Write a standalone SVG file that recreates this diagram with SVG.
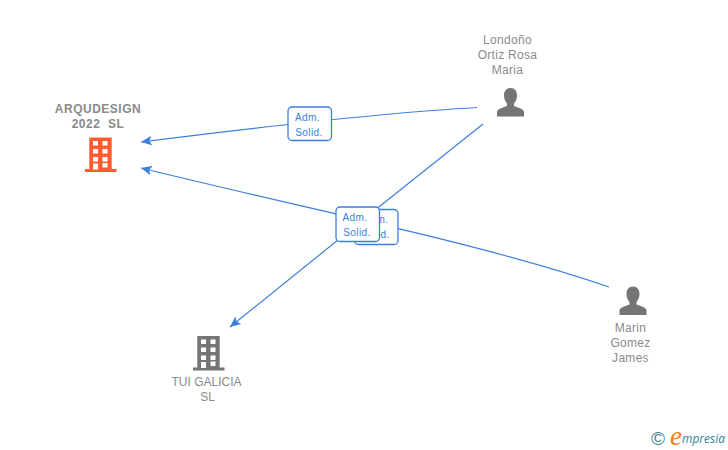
<svg xmlns="http://www.w3.org/2000/svg" width="728" height="450" viewBox="0 0 728 450">
<style>
.lab{font-family:"Liberation Sans",Arial,sans-serif;font-size:12px;fill:#8a8a8a;text-anchor:middle}
.sp{letter-spacing:.3px}
.b{font-weight:bold;letter-spacing:.5px}
.edge{fill:none;stroke:#3b7fdd;stroke-width:1.2}
.box{fill:#fff;stroke:#3b7fdd;stroke-width:1.3}
.bt{font-family:"Liberation Sans",Arial,sans-serif;font-size:10px;fill:#3b7fdd;text-anchor:middle;letter-spacing:.4px}
.win{fill:#fff}
</style>
<defs>
<marker id="arr" markerWidth="12" markerHeight="10" refX="9" refY="4" orient="auto" markerUnits="userSpaceOnUse" viewBox="0 0 10 8"><path d="M9 4L0 0L2 4L0 8Z" fill="#3b7fdd"/></marker>
<g id="bld">
<path d="M4.300 0H26.700V31.500H31.500V34.500H0V31.500H4.300Z"/>
<g class="win"><rect x="8" y="3.500" width="5" height="4.500"/><rect x="17.500" y="3.500" width="5" height="4.500"/><rect x="8" y="11.500" width="5" height="4.500"/><rect x="17.500" y="11.500" width="5" height="4.500"/><rect x="8" y="19.500" width="5" height="4.500"/><rect x="17.500" y="19.500" width="5" height="4.500"/><rect x="8" y="26" width="5" height="6"/><rect x="17.500" y="25.500" width="5" height="4.500"/></g>
</g>
<path id="psn" d="M14 0C18.500 0 20.500 3.500 20.500 7.500C20.500 11 19 14 17.500 15.500V18C21 19.500 27 20.500 27.500 24V28.500H0.500V24C1 20.500 7 19.500 10.500 18V15.500C9 14 7.500 11 7.500 7.500C7.500 3.500 9.500 0 14 0Z"/>
</defs>
<g id="connectors">
<path class="edge" d="M477 107.500C380 113 260 127 141 142" marker-end="url(#arr)"/>
<path class="edge" d="M483 124C400 190 310 262 230 327" marker-end="url(#arr)"/>
<path class="edge" d="M609 287C480 243 320 212 141 168" marker-end="url(#arr)"/>
</g>
<g id="label-3"><rect class="box" x="354.500" y="209.500" width="43.500" height="35" rx="4"/><text class="bt" x="376" y="223">Adm.</text><text class="bt" x="376" y="238">Solid.</text></g>
<g id="label-1"><rect class="box" x="288" y="107" width="43.500" height="33.500" rx="4"/><text class="bt" x="307.500" y="120.500">Adm.</text><text class="bt" x="309" y="135.500">Solid.</text></g>
<g id="label-2"><rect class="box" x="336" y="207" width="43.500" height="34.500" rx="4"/><text class="bt" x="355" y="220.500">Adm.</text><text class="bt" x="357" y="235.500">Solid.</text></g>
<g id="node-arqudesign"><text class="lab b" x="98" y="113">ARQUDESIGN</text><text class="lab b" x="98" y="128" xml:space="preserve">2022  SL</text><use href="#bld" x="85" y="137.500" fill="#ff5c2f"/></g>
<g id="node-tui"><use href="#bld" x="193" y="336" fill="#757575"/><text class="lab" x="206.500" y="386">TUI GALICIA</text><text class="lab" x="207.500" y="401">SL</text></g>
<g id="node-londono"><text class="lab sp" x="507.500" y="44">Londoño</text><text class="lab sp" x="507.500" y="59">Ortiz Rosa</text><text class="lab sp" x="507.500" y="74">Maria</text><use href="#psn" x="496.500" y="88" fill="#757575"/></g>
<g id="node-marin"><use href="#psn" x="619" y="286.500" fill="#757575"/><text class="lab sp" x="630.500" y="332">Marin</text><text class="lab sp" x="630.500" y="347">Gomez</text><text class="lab sp" x="630.500" y="362">James</text></g>
<g id="logo"><text x="658" y="445" font-family="'Liberation Sans',Arial,sans-serif" font-size="19" fill="#3f7f93" text-anchor="middle">©</text><text x="670" y="445" font-family="'Liberation Serif',serif" font-style="italic" font-size="27" fill="#f07d12">e</text><text x="682" y="443" font-family="'Open Sans',sans-serif" font-style="italic" font-size="13" fill="#2f7f93" textLength="43" lengthAdjust="spacingAndGlyphs">mpresia</text></g>
</svg>
